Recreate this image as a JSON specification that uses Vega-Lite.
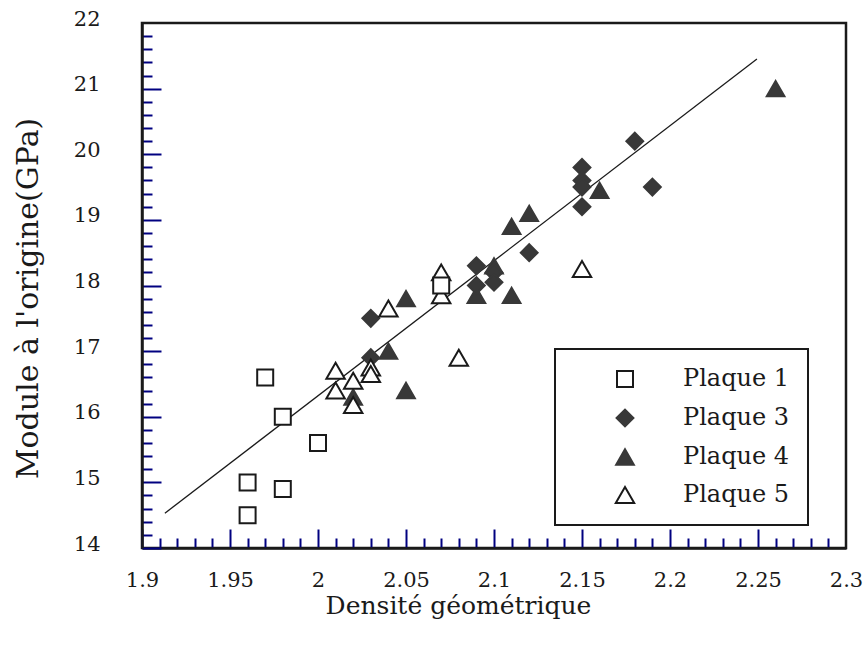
{
  "$schema": "https://vega.github.io/schema/vega-lite/v6.json",
  "width": 704,
  "height": 525,
  "autosize": {"type": "none"},
  "padding": {"left": 142, "top": 23, "right": 19, "bottom": 98},
  "background": "white",
  "config": {
    "font": "DejaVu Serif",
    "view": {"stroke": "#1a1a1a", "strokeWidth": 2.5},
    "legend": {"strokeWidth": 2}
  },
  "datasets": {
    "pts": [
      {"p": "Plaque 4", "d": 2.02, "m": 16.3},
      {"p": "Plaque 4", "d": 2.04, "m": 17.0},
      {"p": "Plaque 4", "d": 2.05, "m": 17.8},
      {"p": "Plaque 4", "d": 2.05, "m": 16.4},
      {"p": "Plaque 4", "d": 2.09, "m": 17.85},
      {"p": "Plaque 4", "d": 2.1, "m": 18.3},
      {"p": "Plaque 4", "d": 2.11, "m": 17.85},
      {"p": "Plaque 4", "d": 2.11, "m": 18.9},
      {"p": "Plaque 4", "d": 2.12, "m": 19.1},
      {"p": "Plaque 4", "d": 2.16, "m": 19.45},
      {"p": "Plaque 4", "d": 2.26, "m": 21.0},
      {"p": "Plaque 3", "d": 2.03, "m": 17.5},
      {"p": "Plaque 3", "d": 2.03, "m": 16.9},
      {"p": "Plaque 3", "d": 2.09, "m": 18.3},
      {"p": "Plaque 3", "d": 2.09, "m": 18.0},
      {"p": "Plaque 3", "d": 2.1, "m": 18.2},
      {"p": "Plaque 3", "d": 2.1, "m": 18.05},
      {"p": "Plaque 3", "d": 2.12, "m": 18.5},
      {"p": "Plaque 3", "d": 2.15, "m": 19.8},
      {"p": "Plaque 3", "d": 2.15, "m": 19.6},
      {"p": "Plaque 3", "d": 2.15, "m": 19.5},
      {"p": "Plaque 3", "d": 2.15, "m": 19.2},
      {"p": "Plaque 3", "d": 2.18, "m": 20.2},
      {"p": "Plaque 3", "d": 2.19, "m": 19.5},
      {"p": "Plaque 5", "d": 2.01, "m": 16.7},
      {"p": "Plaque 5", "d": 2.01, "m": 16.4},
      {"p": "Plaque 5", "d": 2.02, "m": 16.55},
      {"p": "Plaque 5", "d": 2.02, "m": 16.18},
      {"p": "Plaque 5", "d": 2.03, "m": 16.75},
      {"p": "Plaque 5", "d": 2.03, "m": 16.65},
      {"p": "Plaque 5", "d": 2.04, "m": 17.65},
      {"p": "Plaque 5", "d": 2.07, "m": 18.2},
      {"p": "Plaque 5", "d": 2.07, "m": 17.85},
      {"p": "Plaque 5", "d": 2.08, "m": 16.9},
      {"p": "Plaque 5", "d": 2.15, "m": 18.25},
      {"p": "Plaque 1", "d": 1.96, "m": 14.5},
      {"p": "Plaque 1", "d": 1.96, "m": 15.0},
      {"p": "Plaque 1", "d": 1.97, "m": 16.6},
      {"p": "Plaque 1", "d": 1.98, "m": 16.0},
      {"p": "Plaque 1", "d": 1.98, "m": 14.9},
      {"p": "Plaque 1", "d": 2.0, "m": 15.6},
      {"p": "Plaque 1", "d": 2.07, "m": 18.0}
    ],
    "fit": [
      {"d": 1.913, "m": 14.53},
      {"d": 2.2494, "m": 21.45}
    ]
  },
  "layer": [
    {
      "data": {"name": "fit"},
      "mark": {"type": "line", "color": "#1a1a1a", "strokeWidth": 1.3},
      "encoding": {
        "x": {
          "field": "d", "type": "quantitative",
          "scale": {"domain": [1.9, 2.3], "nice": false, "zero": false},
          "axis": {
            "orient": "top", "offset": -525, "title": null, "labels": false, "grid": false, "domain": false,
            "values": [1.9,1.91,1.92,1.93,1.94,1.95,1.96,1.97,1.98,1.99,2.0],
            "tickSize": {"condition": {"test": "abs(datum.value*20 - round(datum.value*20)) < 0.001", "value": 19}, "value": 10},
            "ticks": true,
            "tickWidth": 2, "tickColor": "#000080"
          }
        },
        "y": {
          "field": "m", "type": "quantitative",
          "scale": {"domain": [14, 22], "nice": false, "zero": false},
          "axis": {
            "orient": "right", "offset": -704, "title": null, "labels": false, "grid": false, "domain": false,
            "values": [14,14.2,14.4,14.6,14.8,15,15.2,15.4,15.6,15.8,16],
            "tickSize": {"condition": {"test": "abs(datum.value - round(datum.value)) < 0.001", "value": 19}, "value": 10},
            "ticks": true,
            "tickWidth": 2, "tickColor": "#000080"
          }
        }
      }
    },
    {
      "data": {"name": "fit"},
      "mark": {"type": "line", "strokeOpacity": 0},
      "encoding": {
        "x": {
          "field": "d", "type": "quantitative",
          "scale": {"domain": [1.9, 2.3], "nice": false, "zero": false},
          "axis": {
            "orient": "top", "offset": -525, "title": null, "labels": false, "grid": false, "domain": false,
            "values": [2.01,2.02,2.03,2.04,2.05,2.06,2.07,2.08,2.09,2.1],
            "tickSize": {"condition": {"test": "abs(datum.value*20 - round(datum.value*20)) < 0.001", "value": 19}, "value": 10},
            "ticks": true,
            "tickWidth": 2, "tickColor": "#000080"
          }
        },
        "y": {
          "field": "m", "type": "quantitative",
          "scale": {"domain": [14, 22], "nice": false, "zero": false},
          "axis": {
            "orient": "right", "offset": -704, "title": null, "labels": false, "grid": false, "domain": false,
            "values": [16.2,16.4,16.6,16.8,17,17.2,17.4,17.6,17.8,18],
            "tickSize": {"condition": {"test": "abs(datum.value - round(datum.value)) < 0.001", "value": 19}, "value": 10},
            "ticks": true,
            "tickWidth": 2, "tickColor": "#000080"
          }
        }
      }
    },
    {
      "data": {"name": "fit"},
      "mark": {"type": "line", "strokeOpacity": 0},
      "encoding": {
        "x": {
          "field": "d", "type": "quantitative",
          "scale": {"domain": [1.9, 2.3], "nice": false, "zero": false},
          "axis": {
            "orient": "top", "offset": -525, "title": null, "labels": false, "grid": false, "domain": false,
            "values": [2.11,2.12,2.13,2.14,2.15,2.16,2.17,2.18,2.19,2.2],
            "tickSize": {"condition": {"test": "abs(datum.value*20 - round(datum.value*20)) < 0.001", "value": 19}, "value": 10},
            "ticks": true,
            "tickWidth": 2, "tickColor": "#000080"
          }
        },
        "y": {
          "field": "m", "type": "quantitative",
          "scale": {"domain": [14, 22], "nice": false, "zero": false},
          "axis": {
            "orient": "right", "offset": -704, "title": null, "labels": false, "grid": false, "domain": false,
            "values": [18.2,18.4,18.6,18.8,19,19.2,19.4,19.6,19.8,20],
            "tickSize": {"condition": {"test": "abs(datum.value - round(datum.value)) < 0.001", "value": 19}, "value": 10},
            "ticks": true,
            "tickWidth": 2, "tickColor": "#000080"
          }
        }
      }
    },
    {
      "data": {"name": "fit"},
      "mark": {"type": "line", "strokeOpacity": 0},
      "encoding": {
        "x": {
          "field": "d", "type": "quantitative",
          "scale": {"domain": [1.9, 2.3], "nice": false, "zero": false},
          "axis": {
            "orient": "top", "offset": -525, "title": null, "labels": false, "grid": false, "domain": false,
            "values": [2.21,2.22,2.23,2.24,2.25,2.26,2.27,2.28,2.29],
            "tickSize": {"condition": {"test": "abs(datum.value*20 - round(datum.value*20)) < 0.001", "value": 19}, "value": 10},
            "ticks": true,
            "tickWidth": 2, "tickColor": "#000080"
          }
        },
        "y": {
          "field": "m", "type": "quantitative",
          "scale": {"domain": [14, 22], "nice": false, "zero": false},
          "axis": {
            "orient": "right", "offset": -704, "title": null, "labels": false, "grid": false, "domain": false,
            "values": [20.2,20.4,20.6,20.8,21,21.2,21.4,21.6,21.8],
            "tickSize": {"condition": {"test": "abs(datum.value - round(datum.value)) < 0.001", "value": 19}, "value": 10},
            "ticks": true,
            "tickWidth": 2, "tickColor": "#000080"
          }
        }
      }
    },
    {
      "data": {"name": "pts"},
      "mark": {"type": "point", "filled": true, "strokeWidth": 2, "opacity": 1},
      "encoding": {
        "x": {
          "field": "d", "type": "quantitative",
          "scale": {"domain": [1.9, 2.3], "nice": false, "zero": false},
          "axis": {
            "orient": "bottom", "grid": false, "ticks": false,
            "title": "Densité géométrique",
            "values": [1.9, 1.95, 2.0, 2.05, 2.1, 2.15, 2.2, 2.25, 2.3],
            "labelExpr": "format(datum.value, '.2~f')",
            "domainColor": "#1a1a1a", "domainWidth": 2.5,
            "labelFont": "DejaVu Serif", "labelFontSize": 21, "labelColor": "#1a1a1a",
            "labelBaseline": "alphabetic", "labelPadding": 38, "labelFlush": false, "labelOverlap": false,
            "titleFont": "DejaVu Serif", "titleFontSize": 25, "titleFontWeight": "normal", "titleColor": "#1a1a1a",
            "titleX": 316, "titleY": 65, "titleAlign": "center", "titleBaseline": "alphabetic"
          }
        },
        "y": {
          "field": "m", "type": "quantitative",
          "scale": {"domain": [14, 22], "nice": false, "zero": false},
          "axis": {
            "orient": "left", "grid": false, "ticks": false,
            "title": "Module à l'origine(GPa)",
            "values": [14, 15, 16, 17, 18, 19, 20, 21, 22],
            "domainColor": "#1a1a1a", "domainWidth": 2.5,
            "labelFont": "DejaVu Serif", "labelFontSize": 21, "labelColor": "#1a1a1a",
            "labelPadding": 42, "labelOffset": -4, "labelFlush": false, "labelOverlap": false,
            "titleFont": "DejaVu Serif", "titleFontSize": 30, "titleFontWeight": "normal", "titleColor": "#1a1a1a",
            "titleX": -114, "titleY": 275, "titleAlign": "center", "titleBaseline": "middle", "titleAngle": -90
          }
        },
        "shape": {
          "field": "p", "type": "nominal",
          "scale": {"domain": ["Plaque 1", "Plaque 3", "Plaque 4", "Plaque 5"], "range": ["square", "diamond", "triangle-up", "triangle-up"]},
          "legend": {
            "orient": "none", "legendX": 413, "legendY": 326, "title": null,
            "padding": 18, "strokeColor": "#1a1a1a",
            "labelFont": "DejaVu Serif", "labelFontSize": 24, "labelColor": "#1a1a1a",
            "symbolOffset": 40, "labelOffset": 46, "rowPadding": 14,
            "symbolStrokeWidth": 2
          }
        },
        "fill": {
          "field": "p", "type": "nominal",
          "scale": {"domain": ["Plaque 1", "Plaque 3", "Plaque 4", "Plaque 5"], "range": ["#ffffff", "#383838", "#383838", "#ffffff"]}
        },
        "stroke": {
          "field": "p", "type": "nominal",
          "scale": {"domain": ["Plaque 1", "Plaque 3", "Plaque 4", "Plaque 5"], "range": ["#1a1a1a", "#383838", "#383838", "#1a1a1a"]}
        },
        "size": {
          "field": "p", "type": "nominal",
          "scale": {"domain": ["Plaque 1", "Plaque 3", "Plaque 4", "Plaque 5"], "range": [256, 340, 380, 320]}
        }
      }
    }
  ],
  "resolve": {"axis": {"x": "independent", "y": "independent"}}
}
